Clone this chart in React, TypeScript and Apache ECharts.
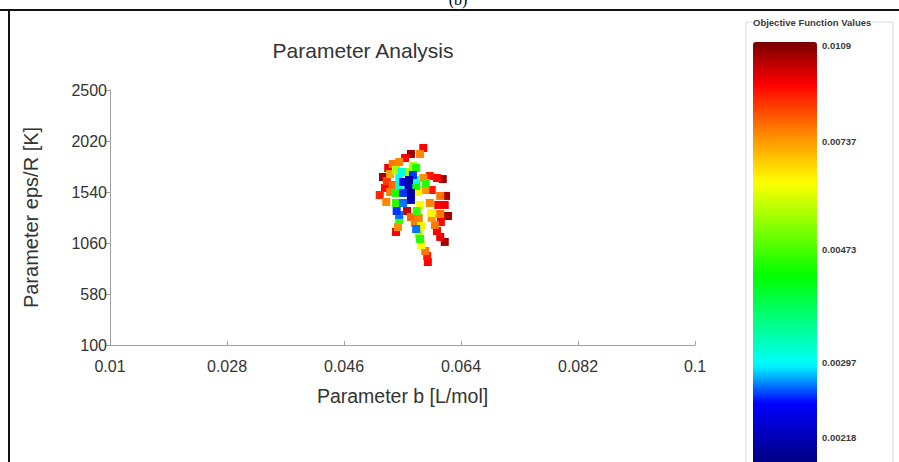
import React, { useEffect, useRef } from "react";
import * as echarts from "echarts";

// ---- Data ----
const xTicks = [0.01, 0.028, 0.046, 0.064, 0.082, 0.1];
const yTicks = [100, 580, 1060, 1540, 2020, 2500];
const colorTicks = [0.0109, 0.00737, 0.00473, 0.00297, 0.00218];
const colorRange = [0.001935, 0.01108]; // bottom / top of the colour bar

const paramB = [
  0.0582, 0.0577, 0.0563, 0.0554, 0.0545, 0.0535, 0.0528, 0.052, 0.0526, 0.0531,
  0.054, 0.0549, 0.0557, 0.0571, 0.0566, 0.056, 0.0559, 0.0551, 0.0545, 0.0582,
  0.0592, 0.0603, 0.0612, 0.0586, 0.0571, 0.0523, 0.0531, 0.054, 0.0551, 0.0563,
  0.0574, 0.0585, 0.0595, 0.0608, 0.0525, 0.054, 0.0551, 0.0563, 0.0577, 0.0592,
  0.0605, 0.0615, 0.0545, 0.0557, 0.0572, 0.0594, 0.0608, 0.062, 0.0545, 0.0563,
  0.0575, 0.0595, 0.0609, 0.0543, 0.0569, 0.0579, 0.06, 0.054, 0.0571, 0.0575,
  0.0603, 0.0577, 0.0579, 0.0608, 0.0615, 0.0585, 0.0588, 0.0589, 0.0566, 0.0617,
  0.0545, 0.0569, 0.0541, 0.0535, 0.0515,
];
const paramEps = [
  1954, 1898, 1898, 1860, 1822, 1804, 1766, 1681, 1644, 1709,
  1747, 1728, 1728, 1766, 1700, 1653, 1606, 1634, 1672, 1672,
  1691, 1672, 1662, 1625, 1597, 1578, 1540, 1531, 1531, 1531,
  1540, 1559, 1559, 1503, 1446, 1437, 1437, 1465, 1418, 1437,
  1418, 1418, 1324, 1361, 1361, 1343, 1333, 1314, 1277, 1305,
  1296, 1296, 1258, 1211, 1249, 1220, 1230, 1164, 1192, 1145,
  1173, 1098, 1041, 1117, 1070, 985, 938, 881, 1785, 1503,
  1597, 1653, 1361, 1606, 1512,
];
const objValues = [
  0.0093, 0.0076, 0.0105, 0.0093, 0.0076, 0.0078, 0.0095, 0.0105, 0.0085, 0.0072,
  0.0055, 0.0031, 0.0054, 0.0044, 0.0026, 0.0021, 0.0022, 0.0025, 0.003, 0.0075,
  0.009, 0.0092, 0.0105, 0.0045, 0.0043, 0.0092, 0.0077, 0.0044, 0.0026, 0.0021,
  0.0063, 0.0074, 0.009, 0.0078, 0.0076, 0.0045, 0.0027, 0.0022, 0.0062, 0.0076,
  0.0093, 0.0095, 0.0027, 0.01, 0.0046, 0.0063, 0.0078, 0.0105, 0.0046, 0.008,
  0.0077, 0.0074, 0.0093, 0.0075, 0.0077, 0.0064, 0.0078, 0.0094, 0.0027, 0.0055,
  0.0093, 0.0045, 0.0062, 0.0095, 0.0105, 0.0078, 0.009, 0.0093, 0.0055, 0.0104,
  0.0031, 0.0031, 0.0026, 0.008, 0.0088,
];

// ---- Style helpers ----
const FONT = "'Liberation Sans', Arial, sans-serif";
// colour stops along the bar, from bottom (0) to top (1)
const barStops: [number, string][] = [
  [0, "#000078"],
  [0.15, "#0000ff"],
  [0.24, "#00ffff"],
  [0.45, "#00ff00"],
  [0.67, "#ffff00"],
  [0.78, "#ff8c00"],
  [0.9, "#ff0000"],
  [1, "#780000"],
];
function hexToRgb(h: string) {
  return [parseInt(h.slice(1, 3), 16), parseInt(h.slice(3, 5), 16), parseInt(h.slice(5, 7), 16)];
}
function buildColors(n: number) {
  const out: string[] = [];
  for (let i = 0; i < n; i++) {
    const t = i / (n - 1);
    let k = 0;
    while (k < barStops.length - 2 && t > barStops[k + 1][0]) k++;
    const [p0, c0] = barStops[k];
    const [p1, c1] = barStops[k + 1];
    const f = Math.min(1, Math.max(0, (t - p0) / (p1 - p0)));
    const a = hexToRgb(c0);
    const b = hexToRgb(c1);
    const rgb = a.map((v, j) => Math.round(v + (b[j] - v) * f));
    out.push(`rgb(${rgb[0]},${rgb[1]},${rgb[2]})`);
  }
  return out;
}

const BAR_LEFT = 753;
const BAR_TOP = 42;
const BAR_W = 64;
const BAR_H = 425;

export default function App() {
  const ref = useRef<HTMLDivElement>(null);
  useEffect(() => {
    if (!ref.current) return;
    const chart = echarts.init(ref.current, undefined, { renderer: "svg" });
    const lnMin = Math.log(colorRange[0]);
    const lnMax = Math.log(colorRange[1]);
    const order = objValues.map((_, i) => i).sort((a, b) => objValues[b] - objValues[a]);
    const data = order.map((i) => [paramB[i], paramEps[i], Math.log(objValues[i]), objValues[i]]);
    const fmt = (v: number) => String(parseFloat(Number(v).toFixed(4)));

    const colorLabels = colorTicks.map((v) => ({
      type: "text",
      x: BAR_LEFT + BAR_W + 5,
      y: BAR_TOP + ((lnMax - Math.log(v)) / (lnMax - lnMin)) * BAR_H,
      z: 100,
      style: {
        text: String(v),
        fontSize: 9.5,
        fontWeight: "bold",
        fontFamily: FONT,
        fill: "#3a3a3a",
        textVerticalAlign: "middle",
      },
    }));

    chart.setOption({
      animation: false,
      backgroundColor: "#ffffff",
      grid: { left: 110, top: 90, width: 585, height: 255 },
      xAxis: {
        type: "value",
        min: 0.01,
        max: 0.1,
        name: "Parameter b [L/mol]",
        nameLocation: "middle",
        nameGap: 41,
        nameTextStyle: { fontSize: 19.5, color: "#333", fontFamily: FONT },
        axisLine: { lineStyle: { color: "#a0a0a0" } },
        axisTick: { customValues: xTicks, inside: true, length: 4, lineStyle: { color: "#a0a0a0" } },
        axisLabel: { customValues: xTicks, formatter: fmt, fontSize: 16, color: "#333", fontFamily: FONT, margin: 13 },
        splitLine: { show: false },
      },
      yAxis: {
        type: "value",
        min: 100,
        max: 2500,
        name: "Parameter eps/R [K]",
        nameLocation: "middle",
        nameGap: 69,
        nameTextStyle: { fontSize: 20, color: "#333", fontFamily: FONT },
        axisLine: { show: true, lineStyle: { color: "#a0a0a0" } },
        axisTick: { show: true, customValues: yTicks, length: 5, lineStyle: { color: "#a0a0a0" } },
        axisLabel: { customValues: yTicks, formatter: fmt, fontSize: 16, color: "#333", fontFamily: FONT, margin: 3 },
        splitLine: { show: false },
      },
      visualMap: {
        type: "continuous",
        dimension: 2,
        seriesIndex: 0,
        min: lnMin,
        max: lnMax,
        calculable: false,
        hoverLink: false,
        show: true,
        text: ["", ""],
        showLabel: false,
        left: BAR_LEFT - 15,
        top: BAR_TOP - 15,
        itemWidth: BAR_W,
        itemHeight: BAR_H,
        inRange: { color: buildColors(61) },
      },
      series: [
        {
          type: "scatter",
          symbol: "rect",
          symbolSize: 8,
          data,
          itemStyle: { opacity: 1 },
        },
      ],
      graphic: [
        {
          type: "text",
          x: 363,
          y: 50,
          style: {
            text: "Parameter Analysis",
            fontSize: 21,
            fontFamily: FONT,
            fill: "#333",
            textAlign: "center",
            textVerticalAlign: "middle",
          },
        },
        {
          type: "text",
          x: 458,
          y: 7,
          style: {
            text: "(b)",
            fontSize: 16,
            fontFamily: "'Liberation Serif', serif",
            fill: "#000",
            textAlign: "center",
            textVerticalAlign: "bottom",
          },
        },
        { type: "line", shape: { x1: 0, y1: 10, x2: 899, y2: 10 }, style: { stroke: "#111", lineWidth: 2 } },
        { type: "line", shape: { x1: 9, y1: 10, x2: 9, y2: 462 }, style: { stroke: "#111", lineWidth: 2 } },
        {
          type: "rect",
          shape: { x: 746, y: 22, width: 147, height: 460 },
          style: { fill: "none", stroke: "#dcdcdc", lineWidth: 1 },
        },
        {
          type: "text",
          x: 752,
          y: 22,
          style: {
            text: "Objective Function Values",
            fontSize: 9.5,
            fontWeight: "bold",
            fontFamily: FONT,
            fill: "#3a3a3a",
            backgroundColor: "#fff",
            padding: [0, 1, 0, 1],
            textVerticalAlign: "middle",
          },
        },
        ...colorLabels,
      ],
    } as any);
    return () => chart.dispose();
  }, []);
  return <div ref={ref} style={{ position: "absolute", left: 0, top: 0, width: 899, height: 462 }} />;
}
